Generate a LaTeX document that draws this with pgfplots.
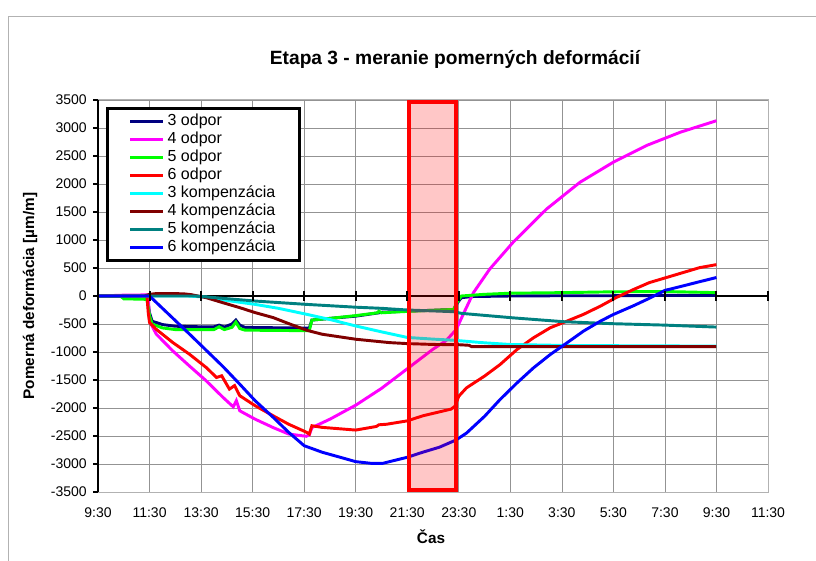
\documentclass[border=0pt]{standalone}
\usepackage{fontspec}
\setmainfont{Liberation Sans}
\usepackage{pgfplots}
\pgfplotsset{compat=1.18}
\definecolor{cNavy}{HTML}{000080}
\definecolor{cMag}{HTML}{FF00FF}
\definecolor{cGreen}{HTML}{00FF00}
\definecolor{cRed}{HTML}{FF0000}
\definecolor{cCyan}{HTML}{00FFFF}
\definecolor{cDRed}{HTML}{800000}
\definecolor{cTeal}{HTML}{008080}
\definecolor{cBlue}{HTML}{0000FF}
\begin{document}
\begin{tikzpicture}[x=1pt,y=1pt]
\path[use as bounding box] (0,0) rectangle (612,420);
\draw[gray!60, line width=0.75pt] (6,-10) -- (6,407.25) -- (700,407.25);
\node[font=\fontsize{14.4}{17}\selectfont\bfseries, anchor=base] at (341.25,371.25) {Etapa 3 - meranie pomerných deformácií};
\node[font=\fontsize{11.5}{14}\selectfont\bfseries, anchor=base, rotate=90] at (25.5,198) {Pomerná deformácia [µm/m]};
\node[font=\fontsize{11.5}{14}\selectfont\bfseries, anchor=base] at (323.25,12.75) {Čas};
\begin{axis}[
  at={(73.5pt,51pt)}, anchor=south west,
  scale only axis, width=502.5pt, height=294pt,
  xmin=0, xmax=26, ymin=-3500, ymax=3500,
  clip=false,
  xtick={0,2,...,26},
  xticklabels={9:30,11:30,13:30,15:30,17:30,19:30,21:30,23:30,1:30,3:30,5:30,7:30,9:30,11:30},
  ytick={-3500,-3000,...,3500},
  grid=major, major grid style={gray!85, line width=0.5pt},
  axis line style={gray!60, line width=0.75pt},
  xtick style={draw=none},
  ytick pos=left, ytick style={black, line width=1pt},
  tick align=outside, major tick length=3.75pt,
  /pgf/number format/assume math mode=true,
  /pgf/number format/1000 sep={}, scaled ticks=false,
  tick label style={font=\fontsize{10.5}{12}\selectfont},
  yticklabel style={anchor=east, inner sep=0pt, xshift=-4.5pt},
  xticklabel style={anchor=base, inner sep=0pt, yshift=-15pt},
  legend style={at={(0.012,0.982)}, anchor=north west, draw=black, line width=2pt,
    fill=white, font=\fontsize{12}{13.5}\selectfont, inner xsep=16pt, inner ysep=3pt,
    row sep=0pt, nodes={inner xsep=2.25pt, inner ysep=0pt, text height=9.5pt, text depth=4pt}},
  legend cell align=left,
  legend image code/.code={\draw[#1, line width=2.2pt] (0pt,0pt) -- (24.75pt,0pt);},
]
% zero axis line with crossing ticks
\addplot[black, line width=1.5pt, forget plot] coordinates {(0,0) (26,0)};
\addplot[only marks, mark=|, mark size=3.75pt, mark options={black, line width=1.5pt}, forget plot]
  coordinates {(0,0)(2,0)(4,0)(6,0)(8,0)(10,0)(12,0)(14,0)(16,0)(18,0)(20,0)(22,0)(24,0)(26,0)};
% 3 odpor
\addplot[cNavy, line width=2.2pt] coordinates {
(0,0) (1,5) (1.9,10) (2.0,-300) (2.1,-450) (2.5,-510) (3,-540) (4,-550) (4.5,-550) (4.7,-520) (4.9,-555) (5.2,-500) (5.35,-430) (5.5,-520) (5.7,-560) (6.5,-565) (7.5,-570) (8.2,-575) (8.3,-430) (9,-400) (10,-360) (10.9,-300) (11,-290) (12,-270) (13,-255) (13.8,-240) (13.95,-120) (14.1,-30) (14.5,-10) (16,0) (18,5) (20,5) (22,10) (24,10)};
\addlegendentry{3 odpor}
% 4 odpor
\addplot[cMag, line width=2.2pt] coordinates {
(0,0) (1,15) (1.95,20) (2.0,-450) (2.26,-680) (2.9,-980) (3.55,-1250) (4.2,-1515) (4.85,-1810) (5.25,-1980) (5.37,-1870) (5.5,-2050) (6.1,-2200) (6.8,-2350) (7.4,-2465) (8.08,-2505) (8.2,-2480) (8.3,-2350) (9,-2200) (10,-1950) (11,-1650) (12,-1300) (13,-950) (13.5,-800) (13.9,-600) (14.2,-300) (14.57,60) (15.2,480) (16.1,955) (17.4,1550) (18.7,2030) (20,2390) (21.3,2690) (22.6,2925) (24,3130)};
\addlegendentry{4 odpor}
% 5 odpor
\addplot[cGreen, line width=2.2pt] coordinates {
(0,0) (0.9,-10) (1.0,-50) (1.9,-60) (2.0,-350) (2.1,-500) (2.5,-570) (3,-600) (4,-600) (4.5,-600) (4.7,-550) (4.9,-600) (5.2,-560) (5.35,-465) (5.5,-580) (5.7,-610) (7,-615) (8.2,-620) (8.3,-430) (9,-400) (10,-350) (10.85,-300) (10.9,-270) (11,-300) (12,-275) (13,-255) (13.8,-240) (13.95,-100) (14.1,0) (15,30) (16,50) (18,60) (20,75) (22,80) (24,60)};
\addlegendentry{5 odpor}
% 6 odpor
\addplot[cRed, line width=2.2pt] coordinates {
(0,0) (1.9,0) (1.95,-300) (2.0,-475) (2.26,-595) (2.9,-830) (3.55,-1040) (4.2,-1277) (4.6,-1455) (4.8,-1425) (5.1,-1663) (5.3,-1600) (5.5,-1780) (6.1,-1960) (6.8,-2140) (7.4,-2290) (8.1,-2435) (8.2,-2465) (8.3,-2317) (8.7,-2346) (10,-2394) (10.8,-2330) (10.9,-2300) (11.2,-2290) (12,-2230) (12.6,-2140) (13.7,-2020) (13.85,-1970) (14,-1790) (14.3,-1640) (15,-1430) (15.6,-1225) (16.26,-955) (16.9,-746) (17.55,-567) (18.2,-448) (18.84,-328) (19.5,-180) (20.1,-30) (20.8,120) (21.4,240) (22.06,330) (22.7,418) (23.35,507) (24,560)};
\addlegendentry{6 odpor}
% 3 kompenzacia
\addplot[cCyan, line width=2.2pt] coordinates {
(0,0) (3.5,0) (4.2,-20) (5,-80) (6.1,-150) (7,-220) (8.1,-327) (9,-420) (10,-535) (11,-640) (12,-740) (13,-770) (13.8,-790) (15,-836) (16,-866) (18.2,-884) (24,-895)};
\addlegendentry{3 kompenzácia}
% 4 kompenzacia
\addplot[cDRed, line width=2.2pt] coordinates {
(0,0) (1.8,0) (2,30) (2.3,45) (3.3,40) (3.6,25) (4.2,-30) (4.85,-120) (5.5,-208) (6.1,-297) (6.8,-386) (7.4,-493) (8.1,-612) (8.7,-683) (10,-772) (11.3,-832) (12,-850) (13,-865) (14,-870) (14.4,-880) (14.5,-905) (24,-905)};
\addlegendentry{4 kompenzácia}
% 5 kompenzacia
\addplot[cTeal, line width=2.2pt] coordinates {
(0,0) (3.8,0) (4.8,-40) (6.1,-90) (8.1,-150) (10,-200) (11,-220) (12,-250) (13.8,-280) (14.1,-310) (16.1,-390) (18.1,-460) (20,-495) (22,-520) (24,-555)};
\addlegendentry{5 kompenzácia}
% 6 kompenzacia
\addplot[cBlue, line width=2.2pt] coordinates {
(0,0) (2,0) (3.55,-680) (4.85,-1260) (5.5,-1574) (6.1,-1871) (6.8,-2168) (7.4,-2435) (8.0,-2673) (8.7,-2790) (9.4,-2880) (10,-2958) (10.6,-2988) (11.05,-2988) (12,-2880) (12.6,-2790) (13.25,-2700) (13.9,-2570) (14.3,-2448) (15,-2149) (15.6,-1850) (16.26,-1552) (16.9,-1283) (17.55,-1045) (18.2,-836) (18.84,-627) (19.5,-448) (20,-330) (20.8,-170) (21.4,-40) (22,100) (22.7,180) (23.3,250) (24,330)};
\addlegendentry{6 kompenzácia}
% left axis line
\addplot[black, line width=1.5pt, forget plot] coordinates {(0,-3500) (0,3500)};
% highlighted interval
\addplot[draw=cRed, line width=3pt, fill=cRed, fill opacity=0.22, draw opacity=1, forget plot]
  coordinates {(12.05,-3460) (13.9,-3460) (13.9,3460) (12.05,3460)} -- cycle;
\end{axis}
\end{tikzpicture}
\end{document}
